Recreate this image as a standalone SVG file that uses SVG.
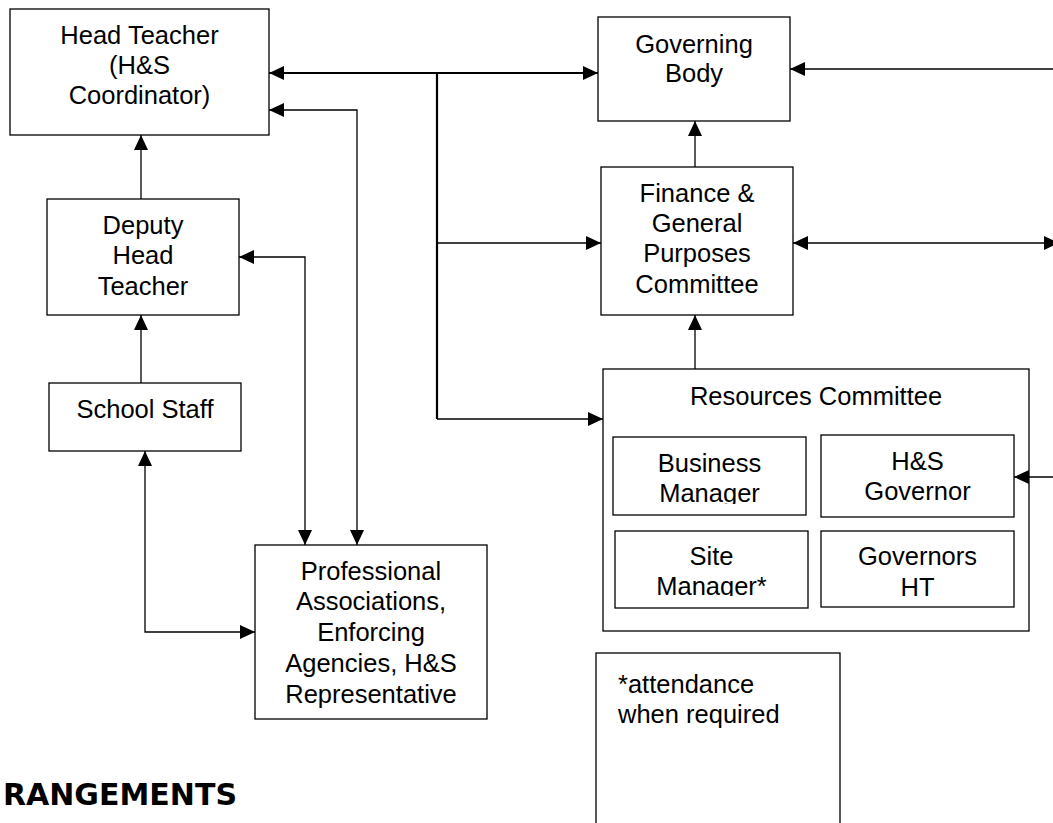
<svg xmlns="http://www.w3.org/2000/svg" width="1053" height="823" viewBox="0 0 1053 823">
<style>
.box{fill:#fff;stroke:#000;stroke-width:1.3}
.t{font-family:"Liberation Sans",Arial,sans-serif;font-size:25.5px;fill:#000;text-anchor:middle}
.ts{font-family:"Liberation Sans",Arial,sans-serif;font-size:25.5px;fill:#000}
.c{fill:none;stroke:#000;stroke-width:1.3}
.cb{fill:none;stroke:#000;stroke-width:2.2}
.h{font-family:"DejaVu Sans",Verdana,sans-serif;font-size:30px;font-weight:bold;fill:#000;text-anchor:end}
</style>
<defs>
<marker id="a" markerUnits="userSpaceOnUse" markerWidth="16" markerHeight="14" refX="15" refY="7" orient="auto-start-reverse"><path d="M0,0 L15,7 L0,14 z" fill="#000"/></marker>
<clipPath id="cb1"><rect x="613" y="437" width="193" height="67"/></clipPath>
<clipPath id="cs1"><rect x="615" y="531" width="193" height="65"/></clipPath>
</defs>
<rect width="1053" height="823" fill="#fff"/>
<g id="head-teacher"><rect class="box" x="10" y="9" width="259" height="126"/>
<text class="t" x="139.5" y="44">Head Teacher</text><text class="t" x="139.5" y="74">(H&amp;S</text><text class="t" x="139.5" y="104">Coordinator)</text></g>
<g id="deputy"><rect class="box" x="47" y="199" width="192" height="116"/>
<text class="t" x="143" y="234">Deputy</text><text class="t" x="143" y="264">Head</text><text class="t" x="143" y="295">Teacher</text></g>
<g id="school-staff"><rect class="box" x="49" y="383" width="192" height="68"/>
<text class="t" x="145" y="418">School Staff</text></g>
<g id="professional"><rect class="box" x="255" y="545" width="232" height="174"/>
<text class="t" x="371" y="580">Professional</text><text class="t" x="371" y="610">Associations,</text><text class="t" x="371" y="641">Enforcing</text><text class="t" x="371" y="672">Agencies, H&amp;S</text><text class="t" x="371" y="703">Representative</text></g>
<g id="governing-body"><rect class="box" x="598" y="17" width="192" height="104"/>
<text class="t" x="694" y="53">Governing</text><text class="t" x="694" y="82">Body</text></g>
<g id="finance"><rect class="box" x="601" y="167" width="192" height="148"/>
<text class="t" x="697" y="202">Finance &amp;</text><text class="t" x="697" y="232">General</text><text class="t" x="697" y="262">Purposes</text><text class="t" x="697" y="293">Committee</text></g>
<g id="resources"><rect class="box" x="603" y="369" width="426" height="262"/>
<text class="t" x="816" y="405">Resources Committee</text></g>
<g id="business-manager"><rect class="box" x="613" y="437" width="193" height="78"/>
<g clip-path="url(#cb1)"><text class="t" x="709.5" y="472">Business</text><text class="t" x="709.5" y="502">Manager</text></g></g>
<g id="hs-governor"><rect class="box" x="821" y="435" width="193" height="82"/>
<text class="t" x="917.5" y="470">H&amp;S</text><text class="t" x="917.5" y="500">Governor</text></g>
<g id="site-manager"><rect class="box" x="615" y="531" width="193" height="77"/>
<g clip-path="url(#cs1)"><text class="t" x="711.5" y="565">Site</text><text class="t" x="711.5" y="595">Manager*</text></g></g>
<g id="governors-ht"><rect class="box" x="821" y="531" width="193" height="76"/>
<text class="t" x="917.5" y="565">Governors</text><text class="t" x="917.5" y="596">HT</text></g>
<g id="attendance-note"><rect class="box" x="596" y="653" width="244" height="180"/>
<text class="ts" x="618" y="693">*attendance</text><text class="ts" x="618" y="723">when required</text></g>
<g id="connectors">
<path class="cb" d="M269,73 H598" marker-start="url(#a)" marker-end="url(#a)"/>
<path class="cb" d="M437,73 V419"/>
<path class="c" d="M437,243 H601" marker-end="url(#a)"/>
<path class="c" d="M437,419 H603" marker-end="url(#a)"/>
<path class="c" d="M269,110 H357 V545" marker-start="url(#a)" marker-end="url(#a)"/>
<path class="c" d="M239,257 H305 V545" marker-start="url(#a)" marker-end="url(#a)"/>
<path class="c" d="M141,199 V135" marker-end="url(#a)"/>
<path class="c" d="M141,383 V315" marker-end="url(#a)"/>
<path class="c" d="M145,451 V632 H255" marker-start="url(#a)" marker-end="url(#a)"/>
<path class="c" d="M695,167 V121" marker-end="url(#a)"/>
<path class="c" d="M695,369 V315" marker-end="url(#a)"/>
<path class="c" d="M1053,69 H790" marker-end="url(#a)"/>
<path class="c" d="M793,243 H1059" marker-start="url(#a)" marker-end="url(#a)"/>
<path class="c" d="M1053,477 H1014" marker-end="url(#a)"/>
</g>
<text class="h" x="237" y="805">RANGEMENTS</text>
</svg>
